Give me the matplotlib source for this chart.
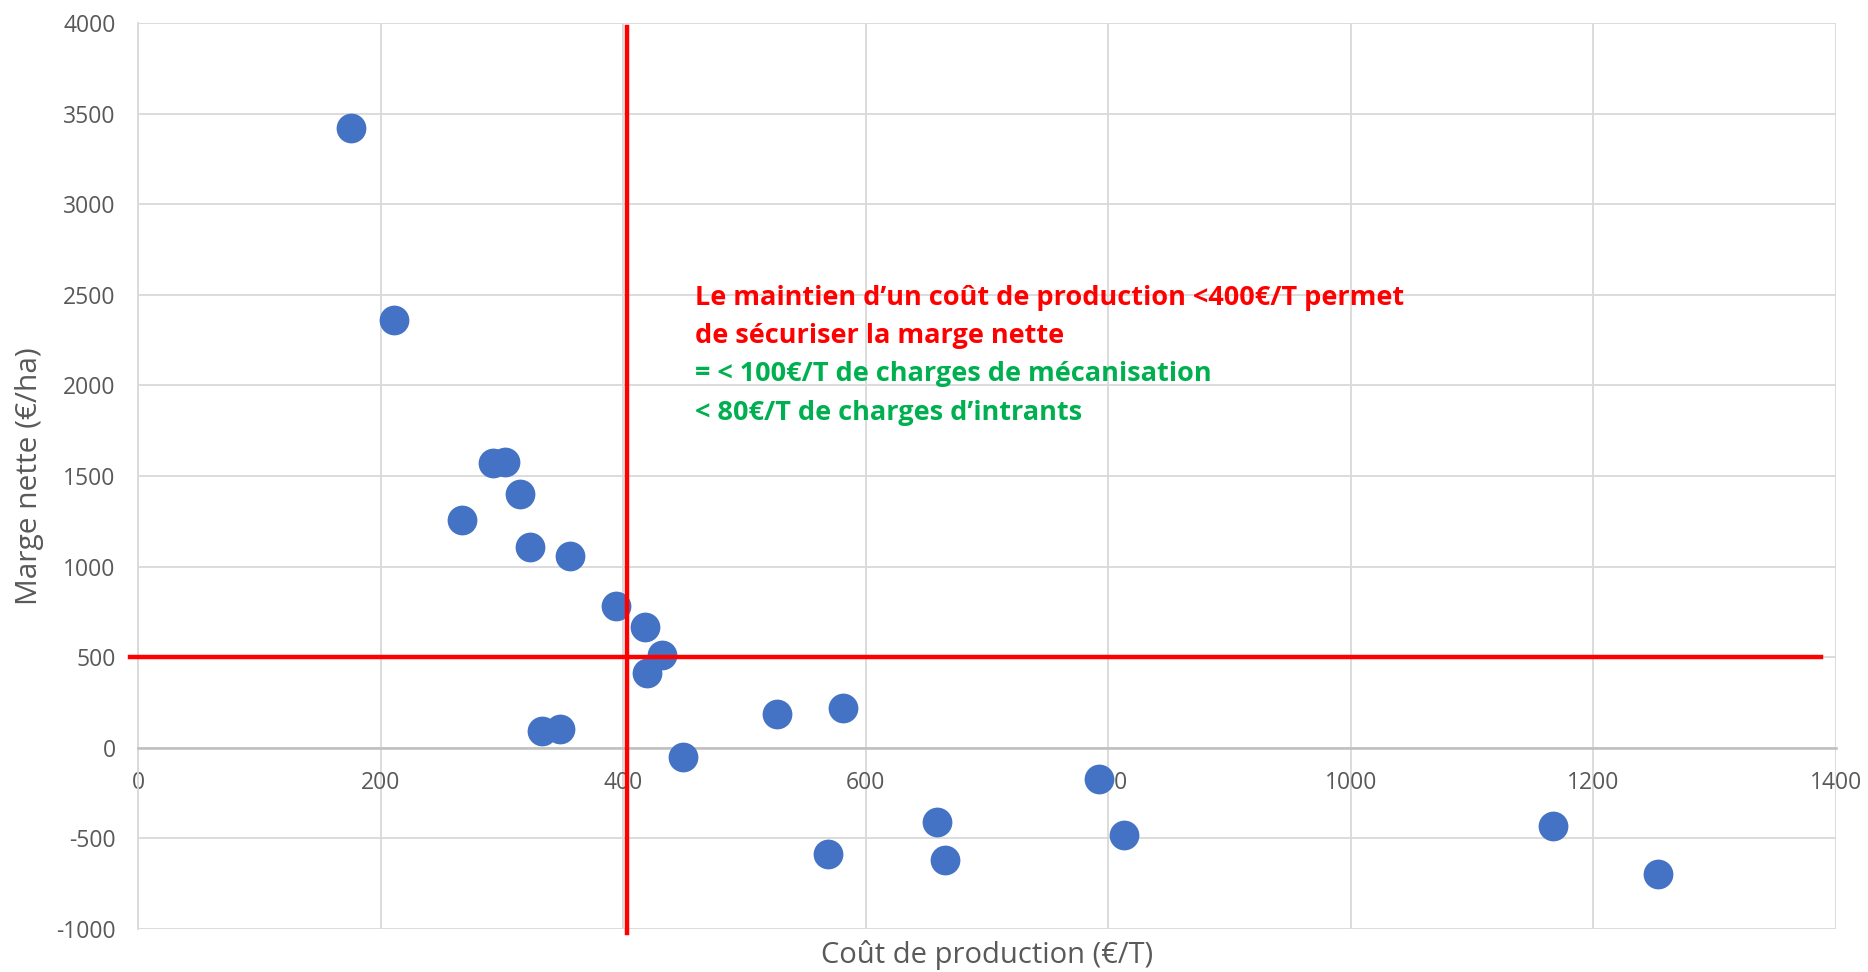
import matplotlib
matplotlib.use("Agg")
import matplotlib.pyplot as plt

cout = [176, 211, 293, 303, 315, 267, 323, 356, 394, 418, 432, 420, 333, 348,
        449, 527, 581, 569, 659, 665, 792, 813, 1167, 1253]
marge = [3423, 2359, 1570, 1577, 1399, 1255, 1110, 1058, 782, 664, 512, 414, 92, 105,
         -53, 184, 217, -585, -407, -618, -171, -480, -434, -696]
seuil_cout = 403
seuil_marge = 500
xticks = [0, 200, 400, 600, 800, 1000, 1200, 1400]
yticks = [-1000, -500, 0, 500, 1000, 1500, 2000, 2500, 3000, 3500, 4000]
texte_rouge = ["Le maintien d\u2019un coût de production <400€/T permet",
               "de sécuriser la marge nette"]
texte_vert = ["= < 100€/T de charges de mécanisation",
              "< 80€/T de charges d\u2019intrants"]

plt.rcParams['font.family'] = ['Open Sans', 'DejaVu Sans']
plt.rcParams['axes.unicode_minus'] = False

fig = plt.figure(figsize=(18.68, 9.72), dpi=100)
ax = fig.add_axes([138/1868, 1-929/972, (1836-138)/1868, (929-23)/972])
ax.set_xlim(0, 1400)
ax.set_ylim(-1000, 4000)
ax.set_xticks(xticks)
ax.set_yticks(yticks)
ax.grid(True, color='#D9D9D9', linewidth=1.3)
ax.set_axisbelow(True)
for s in ['top', 'right']:
    ax.spines[s].set_visible(False)
ax.spines['left'].set_color('#D9D9D9')
ax.spines['left'].set_linewidth(1.3)
ax.spines['bottom'].set_position(('data', 0))
ax.spines['bottom'].set_color('#BFBFBF')
ax.spines['bottom'].set_linewidth(1.8)
ax.tick_params(length=0, labelsize=16.5, colors='#595959')
ax.tick_params(axis='y', pad=16)
ax.tick_params(axis='x', pad=17)

ax.scatter(cout, marge, s=460, color='#4472C4', zorder=3, linewidths=0)

ax.plot([seuil_cout, seuil_cout], [3980, -1020], color='#FF0000', lw=3.2, clip_on=False, zorder=4)
ax.plot([-7, 1388], [seuil_marge, seuil_marge], color='#FF0000', lw=3.2, clip_on=False, zorder=4)

ys = [2484, 2273, 2063, 1846]
for i, t in enumerate(texte_rouge + texte_vert):
    ax.text(459, ys[i], t, color='#FF0000' if i < 2 else '#00B050', fontsize=19.5,
            fontweight='bold', va='center', ha='left', zorder=5)

ax.set_xlabel("Coût de production (€/T)", fontsize=21, color='#595959', va='center')
ax.xaxis.set_label_coords(0.5, -0.0287)
ax.set_ylabel("Marge nette (€/ha)", fontsize=21.5, color='#595959', va='center')
ax.yaxis.set_label_coords(-0.064, 0.5)

fig.savefig("out.png", dpi=100)
